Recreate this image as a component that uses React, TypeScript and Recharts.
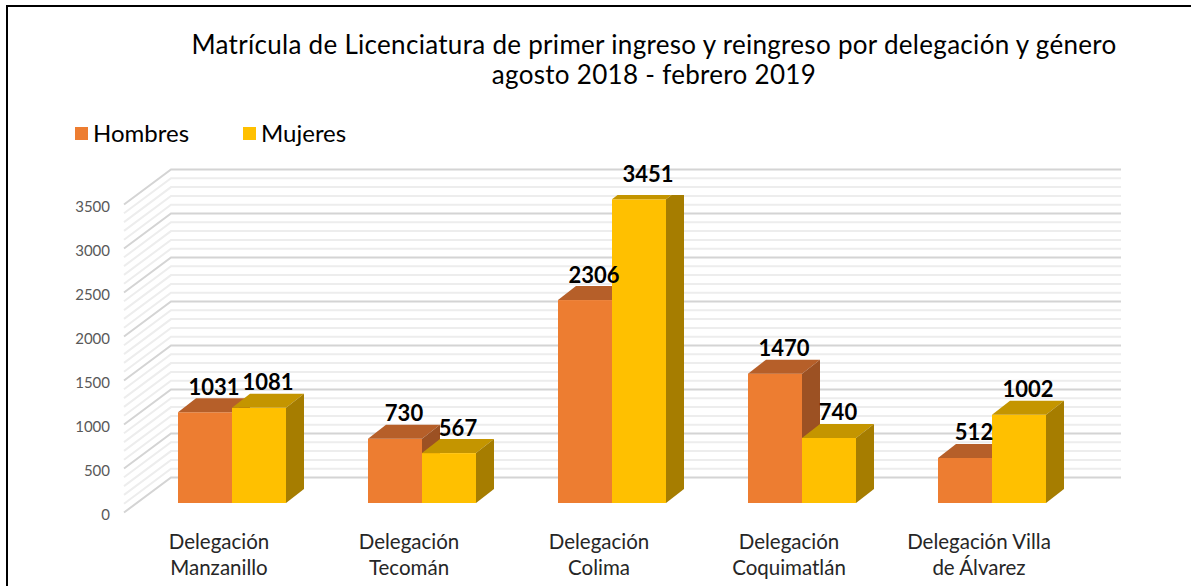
import React from 'react';
import { BarChart, Bar, XAxis, YAxis, CartesianGrid, LabelList } from 'recharts';

const categories = [
  'Delegación Manzanillo',
  'Delegación Tecomán',
  'Delegación Colima',
  'Delegación Coquimatlán',
  'Delegación Villa de Álvarez',
];
const categoryTickLines = [
  ['Delegación', 'Manzanillo'],
  ['Delegación', 'Tecomán'],
  ['Delegación', 'Colima'],
  ['Delegación', 'Coquimatlán'],
  ['Delegación Villa', 'de Álvarez'],
];
const hombres = [1031, 730, 2306, 1470, 512];
const mujeres = [1081, 567, 3451, 740, 1002];
const seriesNames = ['Hombres', 'Mujeres'];
const yDomain = [0, 3500];
const yTicks = [0, 500, 1000, 1500, 2000, 2500, 3000, 3500];
const minorGridValues = [
  100, 200, 300, 400, 600, 700, 800, 900, 1100, 1200, 1300, 1400, 1600, 1700, 1800, 1900, 2100,
  2200, 2300, 2400, 2600, 2700, 2800, 2900, 3100, 3200, 3300, 3400,
];
const titleLines = [
  'Matrícula de Licenciatura de primer ingreso y reingreso por delegación y género',
  'agosto 2018 - febrero 2019',
];

const data = categories.map((c, i) => ({ name: c, hombres: hombres[i], mujeres: mujeres[i] }));

const COLORS = {
  hombres: { front: '#ED7D31', top: '#B65F29', side: '#9C5123' },
  mujeres: { front: '#FFC000', top: '#C49500', side: '#A67D00' },
};
const DEPTH = { dx: 18, dy: -14 };
const FRONT = { dx: -13, dy: 9.5 };
const BACK = { dx: 34, dy: -25.5 };
const FONT = 'Lato, "Open Sans", sans-serif';

const makeBarShape = (c: { front: string; top: string; side: string }) => (props: any) => {
  const { x, y, width, height } = props;
  if (x == null || y == null) return <g />;
  const w = width, h = height;
  const { dx, dy } = DEPTH;
  return (
    <g>
      <rect x={x} y={y} width={w} height={h} fill={c.front} />
      <polygon
        points={`${x},${y} ${x + w},${y} ${x + w + dx},${y + dy} ${x + dx},${y + dy}`}
        fill={c.top}
      />
      <polygon
        points={`${x + w},${y} ${x + w + dx},${y + dy} ${x + w + dx},${y + h + dy} ${x + w},${y + h}`}
        fill={c.side}
      />
    </g>
  );
};

const gridLine3D = (stroke: string) => (props: any) => {
  const { x1, y1, x2, index } = props;
  if (x1 == null || y1 == null || Number.isNaN(y1)) return <g key={`e-${index}`} />;
  const pts = `${x1 + FRONT.dx},${y1 + FRONT.dy} ${x1 + BACK.dx},${y1 + BACK.dy} ${x2 + BACK.dx},${y1 + BACK.dy}`;
  return <polyline key={`g-${index}`} points={pts} fill="none" stroke={stroke} strokeWidth={2} />;
};

const coordsFor = (values: number[]) => (args: any) => {
  const scale = args?.yAxis?.scale;
  const off = args?.offset || {};
  return values.map((v) => {
    if (typeof scale === 'function') return scale(v);
    if (scale && typeof scale.map === 'function') {
      const r = scale.map(v);
      if (typeof r === 'number') return r;
    }
    const top = off.top ?? 195;
    const h = off.height ?? 308;
    return top + h * (1 - (v - yDomain[0]) / (yDomain[1] - yDomain[0]));
  });
};

const YTick = (props: any) => {
  const { x, y, payload } = props;
  return (
    <text
      x={x - 27}
      y={y + FRONT.dy + 1}
      textAnchor="end"
      dominantBaseline="central"
      fill="#595959"
      fontSize={15}
      fontFamily={FONT}
    >
      {payload.value}
    </text>
  );
};

const XTick = (props: any) => {
  const { x, y, index } = props;
  const lines = categoryTickLines[index] || [];
  return (
    <g>
      {lines.map((l, i) => (
        <text
          key={i}
          x={x + FRONT.dx}
          y={y + 38 + i * 26}
          textAnchor="middle"
          dominantBaseline="central"
          fill="#262626"
          fontSize={20.5}
          fontFamily={FONT}
        >
          {l}
        </text>
      ))}
    </g>
  );
};

const ValueLabel = (props: any) => {
  const { x, y, width, value } = props;
  return (
    <text
      x={x + width / 2 + 9}
      y={y - 26}
      textAnchor="middle"
      dominantBaseline="central"
      fill="#000"
      fontSize={22}
      fontWeight={700}
      fontFamily={FONT}
    >
      {value}
    </text>
  );
};

export default function App() {
  const legendColors = [COLORS.hombres.front, COLORS.mujeres.front];
  const legendX = [75, 243];
  return (
    <div style={{ position: 'absolute', left: 0, top: 0, width: 1191, height: 586, background: '#fff', overflow: 'hidden' }}>
      <div
        style={{
          position: 'absolute',
          left: 6,
          top: 5,
          width: 1191,
          height: 600,
          borderLeft: '2px solid #000',
          borderTop: '2px solid #000',
        }}
      />
      <div
        style={{
          position: 'absolute',
          left: 154,
          top: 29,
          width: 1000,
          textAlign: 'center',
          fontFamily: FONT,
          fontSize: 26,
          letterSpacing: 0.3,
          lineHeight: '30px',
          color: '#000',
        }}
      >
        {titleLines.map((t, i) => (
          <div key={i}>{t}</div>
        ))}
      </div>
      {seriesNames.map((n, i) => (
        <div key={n}>
          <div
            style={{
              position: 'absolute',
              left: legendX[i],
              top: 127,
              width: 13,
              height: 13,
              background: legendColors[i],
            }}
          />
          <div
            style={{
              position: 'absolute',
              left: legendX[i] + 18,
              top: 118,
              fontFamily: FONT,
              fontSize: 24,
              lineHeight: '30px',
              color: '#000',
            }}
          >
            {n}
          </div>
        </div>
      ))}
      <div style={{ position: 'absolute', left: 0, top: 0 }}>
        <BarChart
          width={1191}
          height={586}
          data={data}
          margin={{ top: 195, right: 104, bottom: 23, left: 0 }}
          barGap={0}
          barSize={54}
        >
          <CartesianGrid
            vertical={false}
            horizontalCoordinatesGenerator={coordsFor(minorGridValues)}
            horizontal={gridLine3D('#EDEDED')}
          />
          <CartesianGrid
            vertical={false}
            horizontalCoordinatesGenerator={coordsFor(yTicks)}
            horizontal={gridLine3D('#D4D4D4')}
          />
          <XAxis
            dataKey="name"
            axisLine={false}
            tickLine={false}
            tickSize={0}
            tickMargin={0}
            height={60}
            interval={0}
            tick={<XTick />}
          />
          <YAxis
            domain={yDomain}
            ticks={yTicks}
            axisLine={false}
            tickLine={false}
            tickSize={0}
            tickMargin={0}
            width={137}
            tick={<YTick />}
            allowDataOverflow
          />
          <Bar dataKey="hombres" name={seriesNames[0]} isAnimationActive={false} shape={makeBarShape(COLORS.hombres)}>
            <LabelList dataKey="hombres" content={<ValueLabel />} />
          </Bar>
          <Bar dataKey="mujeres" name={seriesNames[1]} isAnimationActive={false} shape={makeBarShape(COLORS.mujeres)}>
            <LabelList dataKey="mujeres" content={<ValueLabel />} />
          </Bar>
        </BarChart>
      </div>
    </div>
  );
}
